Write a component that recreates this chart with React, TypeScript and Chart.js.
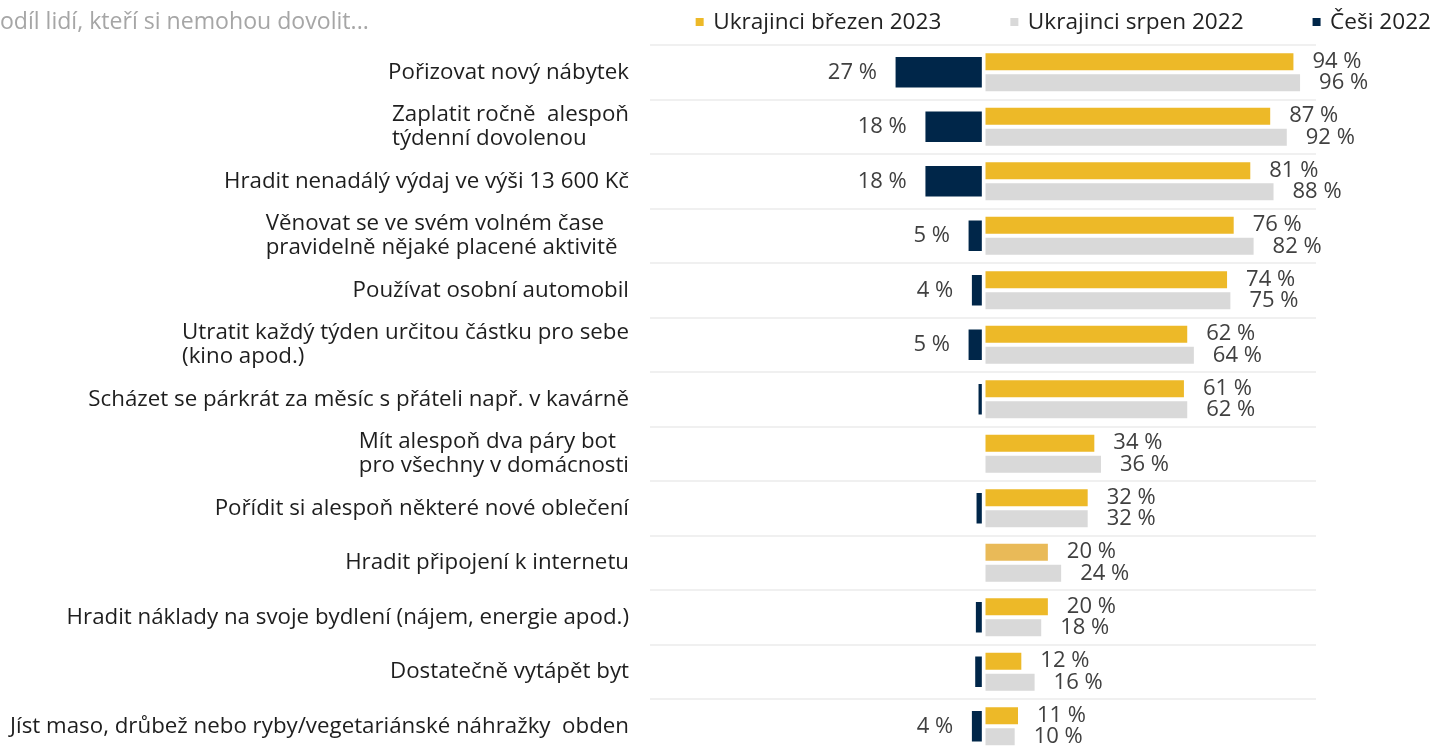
import React, { useEffect, useRef } from 'react';
import { Chart, registerables } from 'chart.js';

Chart.register(...registerables);

// ---------- data ----------
const titleText = 'Podíl lidí, kteří si nemohou dovolit...';

const seriesNames = ['Ukrajinci březen 2023', 'Ukrajinci srpen 2022', 'Češi 2022'];

const categories: string[][] = [
  ['Pořizovat nový nábytek'],
  ['Zaplatit ročně  alespoň', 'týdenní dovolenou'],
  ['Hradit nenadálý výdaj ve výši 13 600 Kč'],
  ['Věnovat se ve svém volném čase', 'pravidelně nějaké placené aktivitě  '],
  ['Používat osobní automobil'],
  ['Utratit každý týden určitou částku pro sebe', '(kino apod.)'],
  ['Scházet se párkrát za měsíc s přáteli např. v kavárně'],
  ['Mít alespoň dva páry bot', 'pro všechny v domácnosti'],
  ['Pořídit si alespoň některé nové oblečení'],
  ['Hradit připojení k internetu'],
  ['Hradit náklady na svoje bydlení (nájem, energie apod.)'],
  ['Dostatečně vytápět byt'],
  ['Jíst maso, drůbež nebo ryby/vegetariánské náhražky  obden'],
];

const ukrajinciBrezen2023 = [94, 87, 81, 76, 74, 62, 61, 34, 32, 20, 20, 12, 11];
const ukrajinciSrpen2022 = [96, 92, 88, 82, 75, 64, 62, 36, 32, 24, 18, 16, 10];
const cesi2022: (number | null)[] = [27, 18, 18, 5, 4, 5, 2, null, 2.6, null, 2.8, 3, 4];

// ---------- style ----------
const FONT = '"Open Sans", "Noto Sans", sans-serif';
const YELLOW = '#EDB928';
const YELLOW_LIGHT = '#E9BA58';
const GRAY = '#D9D9D9';
const NAVY = '#002649';
const LABEL_MIN = 3.5;

const overlayPlugin = {
  id: 'overlay',
  afterDatasetsDraw(chart: any) {
    const ctx: CanvasRenderingContext2D = chart.ctx;
    const yScale = chart.scales.y;
    const area = chart.chartArea;
    ctx.save();

    // category labels (block right-aligned, lines left-aligned)
    ctx.font = `22.3px ${FONT}`;
    ctx.fillStyle = '#1E1E1E';
    ctx.textBaseline = 'middle';
    ctx.textAlign = 'left';
    const right = area.left - 21;
    const lh = 24.5;
    categories.forEach((lines, i) => {
      const yc = yScale.getPixelForValue(i);
      const blockW = Math.max(...lines.map((l) => ctx.measureText(l).width));
      const x0 = right - blockW;
      lines.forEach((l, j) => {
        const y = yc + (j - (lines.length - 1) / 2) * lh;
        ctx.fillText(l, x0, y);
      });
    });

    // value labels
    ctx.font = `22px ${FONT}`;
    ctx.fillStyle = '#404040';
    chart.data.datasets.forEach((ds: any, di: number) => {
      const meta = chart.getDatasetMeta(di);
      meta.data.forEach((el: any, i: number) => {
        const v = ds.data[i];
        if (v == null || Math.abs(v) < LABEL_MIN) return;
        const txt = `${Math.round(Math.abs(v))} %`;
        if (v >= 0) {
          ctx.textAlign = 'left';
          ctx.fillText(txt, el.x + 17, el.y);
        } else {
          ctx.textAlign = 'right';
          ctx.fillText(txt, el.x - 17, el.y);
        }
      });
    });
    ctx.restore();
  },
  afterDraw(chart: any) {
    const ctx: CanvasRenderingContext2D = chart.ctx;
    ctx.save();
    ctx.textBaseline = 'alphabetic';
    // title
    ctx.font = `23.1px ${FONT}`;
    ctx.fillStyle = '#A6A6A6';
    ctx.textAlign = 'left';
    ctx.fillText(titleText, -14, 29);

    // legend (right aligned)
    ctx.font = `22.6px ${FONT}`;
    let x = chart.width - 4;
    const ds = chart.data.datasets;
    for (let i = ds.length - 1; i >= 0; i--) {
      const label = ds[i].label;
      const w = ctx.measureText(label).width;
      const tx = x - w;
      ctx.fillStyle = '#222222';
      ctx.fillText(label, tx, 29);
      const mr = tx - 9.5;
      ctx.fillStyle = ds[i].legendColor;
      ctx.fillRect(mr - 8, 18, 8, 8);
      x = mr - 8 - 69;
    }
    ctx.restore();
  },
};

export default function App() {
  const ref = useRef<HTMLCanvasElement | null>(null);

  useEffect(() => {
    if (!ref.current) return;
    const chart = new Chart(ref.current, {
      type: 'bar',
      data: {
        labels: categories.map((c) => c.join(' ')),
        datasets: [
          {
            label: seriesNames[0],
            data: ukrajinciBrezen2023,
            backgroundColor: ukrajinciBrezen2023.map((_, i) => (i === 9 ? YELLOW_LIGHT : YELLOW)),
            legendColor: YELLOW,
            borderColor: '#FFFFFF',
            borderWidth: 2,
            borderSkipped: false,
            categoryPercentage: 0.775,
            barPercentage: 1,
          } as any,
          {
            label: seriesNames[1],
            data: ukrajinciSrpen2022,
            backgroundColor: GRAY,
            legendColor: GRAY,
            borderColor: '#FFFFFF',
            borderWidth: 2,
            borderSkipped: false,
            categoryPercentage: 0.775,
            barPercentage: 1,
          } as any,
          {
            label: seriesNames[2],
            data: cesi2022.map((v) => (v == null ? null : -v)),
            backgroundColor: NAVY,
            legendColor: NAVY,
            borderColor: '#FFFFFF',
            borderWidth: 2,
            borderSkipped: false,
            grouped: false,
            barThickness: 34,
          } as any,
        ],
      },
      options: {
        indexAxis: 'y',
        animation: false,
        responsive: false,
        maintainAspectRatio: false,
        events: [],
        layout: { padding: { left: 650, right: 119, top: 45, bottom: 6.5 } },
        scales: {
          x: { display: false, min: -100.5, max: 100.2 },
          y: {
            display: true,
            offset: true,
            ticks: { display: false },
            border: { display: false },
            grid: { color: '#F0F0F0', lineWidth: 2, drawTicks: false, offset: true },
          },
        },
        plugins: {
          legend: { display: false },
          title: { display: false },
          tooltip: { enabled: false },
        },
      } as any,
      plugins: [overlayPlugin],
    });
    return () => chart.destroy();
  }, []);

  return (
    <div style={{ position: 'fixed', left: 0, top: 0, width: 1435, height: 747, overflow: 'hidden', background: '#FFFFFF' }}>
      <canvas ref={ref} width={1435} height={760} style={{ display: 'block', width: 1435, height: 760 }} />
    </div>
  );
}
